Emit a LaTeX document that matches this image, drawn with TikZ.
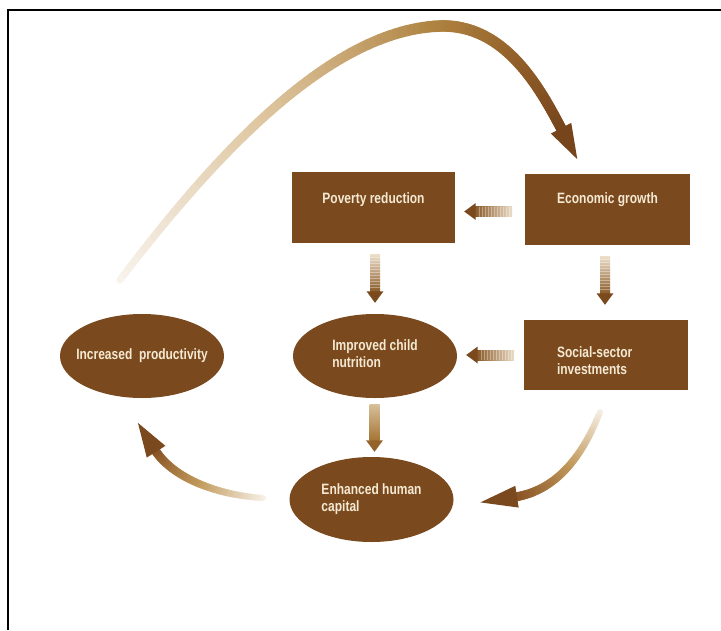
\documentclass[tikz,border=0pt]{standalone}
\usepackage{fontspec}
\newfontfamily\condfont{Liberation Sans}[FakeStretch=0.8]
\usetikzlibrary{shapes.geometric,calc}
\definecolor{boxbrown}{HTML}{7A4A1E}
\definecolor{textcream}{HTML}{F5E9D3}
\definecolor{arrdark}{HTML}{7A4A1E}
\definecolor{arrmid}{HTML}{8A5A28}
\definecolor{arrlight}{HTML}{EBDDC8}
\definecolor{smtop}{HTML}{D6BE98}
\definecolor{smbot}{HTML}{A47433}
\definecolor{smhead}{HTML}{93632A}
\definecolor{arcA}{HTML}{F8F3EC}
\definecolor{arcB}{HTML}{DCC29A}
\definecolor{arcC}{HTML}{AE8240}
\definecolor{arcD}{HTML}{93602A}
\definecolor{arcE}{HTML}{77451C}
\definecolor{cvA}{HTML}{F6F0E6}
\definecolor{cvB}{HTML}{C29A5C}
\definecolor{cvC}{HTML}{8A5526}
\def\getxy#1,#2;#3#4{\def#3{#1}\def#4{#2}}
\newcommand\gradcurve[9]{%
  \getxy#1;\xA\yA \getxy#2;\xB\yB \getxy#3;\xC\yC \getxy#4;\xD\yD
  \foreach \i in {1,...,60}{%
    \pgfmathsetmacro\ta{(\i-1)/60}%
    \pgfmathsetmacro\tb{\i/60}%
    \pgfmathsetmacro\sa{1-\ta}%
    \pgfmathsetmacro\sb{1-\tb}%
    \pgfmathsetmacro\xa{\sa*\sa*\sa*\xA+3*\sa*\sa*\ta*\xB+3*\sa*\ta*\ta*\xC+\ta*\ta*\ta*\xD}%
    \pgfmathsetmacro\ya{\sa*\sa*\sa*\yA+3*\sa*\sa*\ta*\yB+3*\sa*\ta*\ta*\yC+\ta*\ta*\ta*\yD}%
    \pgfmathsetmacro\xb{\sb*\sb*\sb*\xA+3*\sb*\sb*\tb*\xB+3*\sb*\tb*\tb*\xC+\tb*\tb*\tb*\xD}%
    \pgfmathsetmacro\yb{\sb*\sb*\sb*\yA+3*\sb*\sb*\tb*\yB+3*\sb*\tb*\tb*\yC+\tb*\tb*\tb*\yD}%
    \pgfmathtruncatemacro\mval{50*(\ta+\tb)}%
    \ifnum\mval<50 \pgfmathtruncatemacro\mm{2*\mval}\colorlet{segcol}{#8!\mm!#7}%
    \else \pgfmathtruncatemacro\mm{2*\mval-100}\colorlet{segcol}{#9!\mm!#8}\fi
    \pgfmathsetmacro\wid{#5+(#6-#5)*\tb}%
    \draw[segcol, line width=\wid pt, line cap=round] (\xa,\ya) -- (\xb,\yb);
  }%
}
% head: from control point C to end D, length, width, colour
\newcommand\curvehead[5]{%
  \getxy#1;\xC\yC \getxy#2;\xD\yD
  \pgfmathsetmacro\dx{\xD-\xC}%
  \pgfmathsetmacro\dy{\yD-\yC}%
  \pgfmathsetmacro\nn{sqrt(\dx*\dx+\dy*\dy)}%
  \pgfmathsetmacro\ux{\dx/\nn}%
  \pgfmathsetmacro\uy{\dy/\nn}%
  \pgfmathsetmacro\tx{\xD+\ux*#3}%
  \pgfmathsetmacro\ty{\yD+\uy*#3}%
  \pgfmathsetmacro\ax{\xD-\uy*#4/2-\ux*2}%
  \pgfmathsetmacro\ay{\yD+\ux*#4/2-\uy*2}%
  \pgfmathsetmacro\bx{\xD+\uy*#4/2-\ux*2}%
  \pgfmathsetmacro\by{\yD-\ux*#4/2-\uy*2}%
  \fill[#5] (\tx,\ty) -- (\ax,\ay) -- (\bx,\by) -- cycle;
}
\tikzset{
  lbl/.style={text=textcream, font=\condfont\bfseries\fontsize{15}{17}\selectfont},
  rbox/.style={lbl, rectangle, fill=boxbrown, inner sep=0pt, minimum width=164pt, minimum height=71pt},
  ell/.style={lbl, ellipse, fill=boxbrown, inner sep=0pt, minimum width=164pt, minimum height=84pt},
  leftarr/.pic={
    \shade[left color=arrmid, right color=arrlight] (11,-5) rectangle (48,5);
    \foreach \s in {15,18,...,47} \draw[white, opacity=.35, line width=.8pt] (\s,-5) -- (\s,5);
    \fill[arrdark] (0,0) -- (11.5,-8.5) -- (11.5,8.5) -- cycle;
  },
  downarr/.pic={
    \shade[bottom color=arrmid, top color=arrlight] (-5,-11) rectangle (5,-48);
    \foreach \s in {-15,-18,...,-47} \draw[white, opacity=.35, line width=.8pt] (-5,\s) -- (5,\s);
    \fill[arrdark] (0,0) -- (-8.5,-11.5) -- (8.5,-11.5) -- cycle;
  },
  smoothdown/.pic={
    \shade[bottom color=smbot, top color=smtop] (-5,-11) rectangle (5,-47);
    \fill[smhead] (0,0) -- (-8.5,-11.5) -- (8.5,-11.5) -- cycle;
  },
}
\begin{document}
\begin{tikzpicture}[x=1pt,y=-1pt]
\fill[white] (0,0) rectangle (721,630);
\useasboundingbox (0,0) rectangle (721,630);
\draw[black, line width=1.6pt] (8,630) -- (8,10) -- (721,10);

% nodes
\node[rbox, minimum width=163pt, text height=31pt, text depth=40pt] (pov) at (373.5,207.5) {Poverty reduction};
\node[rbox, minimum width=165pt, text height=29pt, text depth=42pt] (econ) at (607.5,209.5) {Economic growth};
\node[rbox, minimum height=70pt] (soc) at (606,355) {};
\node[lbl, anchor=base west, inner sep=0pt] (soctext) at ($(soc.west)+(33,2)$) {\begin{tabular}[t]{@{}l@{}}Social-sector\\investments\end{tabular}};
\node[ell] (prod) at (142,356) {\makebox[0pt]{Increased\ \ productivity}};
\node[ell] (imp) at (375,356) {\makebox[0pt]{\begin{tabular}{@{}l@{}}Improved child\\nutrition\end{tabular}}};
\node[ell, minimum height=85pt] (enh) at (371.5,499.5) {\makebox[0pt]{\begin{tabular}{@{}l@{}}Enhanced human\\capital\end{tabular}}};

% straight arrows
\pic at ($(pov.east)+(9,4)$) {leftarr};
\pic at ($(imp.east)+(9,-1)$) {leftarr};
\pic at ($(imp.north)+(0,-11)$) {downarr};
\pic at ($(soc.north)+(-1,-15)$) {downarr};
\pic at ($(enh.north)+(3,-5)$) {smoothdown};

% curved arrows
\gradcurve{120,280}{215,155}{330,30}{440,26}{7}{11.5}{arcA}{arcB}{arcC}
\gradcurve{440,26}{505,24}{540,88}{562,130}{11.5}{10.5}{arcC}{arcD}{arcE}
\curvehead{540,88}{562,130}{33}{23}{arcE}

\gradcurve{263,498}{215,495}{172,477}{155,450}{6}{9}{cvA}{cvB}{cvC}
\curvehead{172,477}{155,450}{32}{22}{arrdark}

\gradcurve{600,412}{585,450}{560,490}{515,497}{6}{9}{cvA}{cvB}{cvC}
\curvehead{560,490}{515,497}{35}{22}{arrdark}
\end{tikzpicture}
\end{document}
